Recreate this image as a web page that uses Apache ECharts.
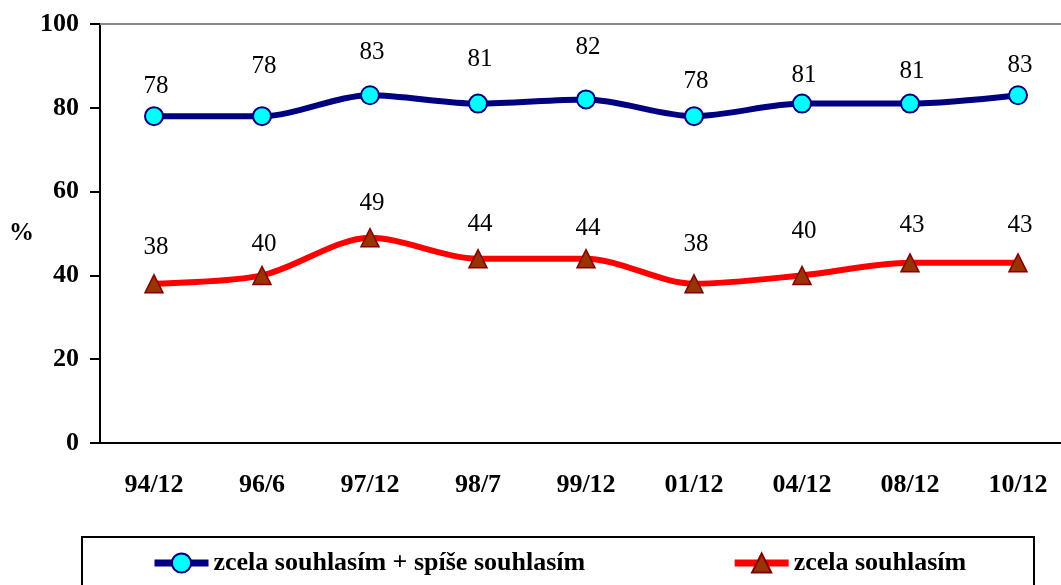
<!DOCTYPE html>
<html>
<head>
<meta charset="UTF-8">
<title>chart</title>
<script src="https://cdn.jsdelivr.net/npm/echarts@6/dist/echarts.min.js"></script>
<style>
    body { margin: 0; padding: 0; background: #fff; }
    #app { width: 1061px; height: 585px; }
</style>
</head>
<body>
<div id="app"></div>
<script>
    // data
    var categories = ['94/12', '96/6', '97/12', '98/7', '99/12', '01/12', '04/12', '08/12', '10/12'];
    var agreeAll = [78, 78, 83, 81, 82, 78, 81, 81, 83];
    var agreeFully = [38, 40, 49, 44, 44, 38, 40, 43, 43];
    var seriesNames = ['zcela souhlasím + spíše souhlasím', 'zcela souhlasím'];
    // how far (px) each value label sits above its marker
    var agreeAllLift = [30, 50, 43, 44, 52, 35, 28, 32, 30];
    var agreeFullyLift = [36, 31, 34, 34, 30, 39, 44, 37, 37];

    var font = 'Liberation Serif';
    var chart = echarts.init(document.getElementById('app'));

    function withLabels(values, lifts) {
        return values.map(function (v, i) {
            return { value: v, label: { offset: [2, -lifts[i]] } };
        });
    }

    var valueLabel = {
        show: true, position: 'inside',
        fontFamily: font, fontSize: 25, color: '#000'
    };

    var option = {
        animation: false,
        // plot runs past the right edge of the canvas, like the original
        grid: { left: 100, width: 972, top: 24, bottom: 142, outerBoundsMode: 'none' },
        xAxis: [{
            type: 'category',
            data: categories,
            boundaryGap: true,
            axisLine: { lineStyle: { color: '#000', width: 2 } },
            axisTick: { length: 10, lineStyle: { color: '#000', width: 2 } },
            axisLabel: { fontFamily: font, fontWeight: 'bold', fontSize: 26, color: '#000', margin: 29 }
        }, {
            // grey top border of the plot area
            type: 'category',
            data: categories,
            position: 'top',
            axisLine: { lineStyle: { color: '#888', width: 2 } },
            axisTick: { show: false },
            axisLabel: { show: false }
        }],
        yAxis: {
            type: 'value',
            min: 0, max: 100, interval: 20,
            name: '%',
            nameLocation: 'middle',
            nameRotate: 0,
            nameGap: 64,
            nameTextStyle: { fontFamily: font, fontWeight: 'bold', fontSize: 25, color: '#000' },
            axisLine: { show: true, lineStyle: { color: '#000', width: 2 } },
            axisTick: { show: true, length: 10, lineStyle: { color: '#000', width: 2 } },
            splitLine: { show: false },
            axisLabel: { fontFamily: font, fontWeight: 'bold', fontSize: 26, color: '#000', margin: 21 }
        },
        legend: {
            left: 146,
            top: 545,
            itemWidth: 54,
            itemHeight: 24,
            itemGap: 146,
            lineStyle: { width: 7 },
            textStyle: { fontFamily: font, fontWeight: 'bold', fontSize: 26, color: '#000' },
            data: seriesNames
        },
        graphic: [{
            type: 'rect',
            shape: { x: 82, y: 537, width: 952, height: 60 },
            style: { fill: 'none', stroke: '#000', lineWidth: 2 },
            silent: true
        }],
        series: [{
            name: seriesNames[0],
            type: 'line',
            data: withLabels(agreeAll, agreeAllLift),
            smooth: 0.3,
            symbol: 'circle',
            symbolSize: 18,
            lineStyle: { color: '#000080', width: 6 },
            itemStyle: { color: '#00FFFF', borderColor: '#000080', borderWidth: 2 },
            label: valueLabel
        }, {
            name: seriesNames[1],
            type: 'line',
            data: withLabels(agreeFully, agreeFullyLift),
            smooth: 0.3,
            symbol: 'triangle',
            symbolSize: 18,
            lineStyle: { color: '#FF0000', width: 6 },
            itemStyle: { color: '#993300', borderColor: '#800000', borderWidth: 1.5 },
            label: valueLabel
        }]
    };
    chart.setOption(option);
</script>
</body>
</html>
